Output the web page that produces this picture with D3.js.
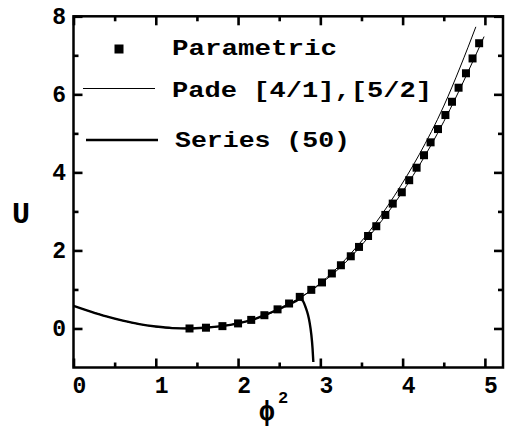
<!DOCTYPE html>
<html>
<head>
<meta charset="utf-8">
<script src="https://cdn.jsdelivr.net/npm/d3@7"></script>
<style>
  body { margin: 0; background: #fff; }
  text { font-family: "Liberation Mono", "Courier New", monospace; font-weight: bold; fill: #000; }
</style>
</head>
<body>
<div id="plot"></div>
<script>
// Data
const paramX = [1.41, 1.61, 1.81, 2.0, 2.16, 2.32, 2.48, 2.62, 2.75, 2.89, 3.02, 3.14, 3.25, 3.37, 3.47, 3.58,
  3.68, 3.79, 3.88, 3.99, 4.08, 4.17, 4.26, 4.34, 4.43, 4.52, 4.60, 4.68, 4.77, 4.85, 4.93];
const paramU = [0.0, 0.02, 0.06, 0.13, 0.22, 0.34, 0.49, 0.64, 0.81, 0.99, 1.18, 1.41, 1.62, 1.85, 2.09, 2.37,
  2.62, 2.91, 3.2, 3.49, 3.8, 4.12, 4.44, 4.77, 5.11, 5.47, 5.81, 6.17, 6.54, 6.92, 7.31];

const padeAX = [0, 0.4, 0.8, 1.2, 1.4, 1.8, 2.2, 2.6, 3.0, 3.3, 3.6, 3.9, 4.2, 4.5, 4.8, 4.99];
const padeAU = [0.58, 0.31, 0.11, 0.01, 0.0, 0.06, 0.24, 0.6, 1.14, 1.68, 2.38, 3.2, 4.17, 5.3, 6.6, 7.48];

const padeBX = [0, 0.4, 0.8, 1.2, 1.4, 1.8, 2.2, 2.6, 3.0, 3.3, 3.6, 3.9, 4.2, 4.5, 4.7, 4.89];
const padeBU = [0.58, 0.31, 0.11, 0.01, 0.0, 0.06, 0.24, 0.6, 1.16, 1.76, 2.5, 3.4, 4.45, 5.7, 6.7, 7.73];

const seriesX = [0, 0.2, 0.4, 0.6, 0.8, 1.0, 1.2, 1.4, 1.6, 1.8, 2.0, 2.2, 2.4, 2.6, 2.7, 2.75,
  2.79, 2.82, 2.85, 2.87, 2.89, 2.905, 2.915];
const seriesU = [0.58, 0.44, 0.31, 0.2, 0.11, 0.05, 0.01, 0.0, 0.02, 0.06, 0.13, 0.24, 0.41, 0.6, 0.7, 0.76,
  0.7, 0.55, 0.35, 0.15, -0.15, -0.5, -0.86];

const xTicks = [0, 1, 2, 3, 4, 5];
const xMinor = [0.5, 1.5, 2.5, 3.5, 4.5];
const yTicks = [0, 2, 4, 6, 8];
const yMinor = [1, 3, 5, 7];
const legendLabels = ["Parametric", "Pade [4/1],[5/2]", "Series (50)"];

const w = 505, h = 429;
const svg = d3.select("#plot").append("svg").attr("width", w).attr("height", h);

const x = d3.scaleLinear().domain([0, 5.22]).range([73.5, 503]);
const y = d3.scaleLinear().domain([-1, 8]).range([367.5, 16.3]);

const zip = (xs, ys) => xs.map((v, i) => [v, ys[i]]);
const line = d3.line().x(d => x(d[0])).y(d => y(d[1])).curve(d3.curveMonotoneX);

// frame and ticks first, curves on top
const [x0, x1] = x.range();
const [y0, y1] = y.range();

svg.append("rect").attr("x", x0).attr("y", y1).attr("width", x1 - x0).attr("height", y0 - y1)
  .attr("fill", "none").attr("stroke", "#000").attr("stroke-width", 2.5);

// ticks point inward on all four sides
const addAxis = (axis, tx, ty) => {
  const g = svg.append("g").attr("transform", `translate(${tx},${ty})`).call(axis);
  g.select(".domain").remove();
  g.selectAll("text").remove();
  g.selectAll("line").attr("stroke", "#000").attr("stroke-width", 2.6);
};
[[9, xTicks], [5, xMinor]].forEach(([len, vals]) => {
  addAxis(d3.axisTop(x).tickValues(vals).tickSize(len), 0, y0);
  addAxis(d3.axisBottom(x).tickValues(vals).tickSize(len), 0, y1);
});
[[9, yTicks], [5, yMinor]].forEach(([len, vals]) => {
  addAxis(d3.axisRight(y).tickValues(vals).tickSize(len), x0, 0);
  addAxis(d3.axisLeft(y).tickValues(vals).tickSize(len), x1, 0);
});

// curves
svg.append("path").datum(zip(padeAX, padeAU)).attr("d", line)
  .attr("fill", "none").attr("stroke", "#000").attr("stroke-width", 1);
svg.append("path").datum(zip(padeBX, padeBU)).attr("d", line)
  .attr("fill", "none").attr("stroke", "#000").attr("stroke-width", 1);
svg.append("path").datum(zip(seriesX, seriesU)).attr("d", line)
  .attr("fill", "none").attr("stroke", "#000").attr("stroke-width", 2.4);

// squares
const sq = 8;
svg.selectAll(".pt").data(zip(paramX, paramU)).enter().append("rect")
  .attr("class", "pt")
  .attr("x", d => x(d[0]) - sq / 2).attr("y", d => y(d[1]) - sq / 2)
  .attr("width", sq).attr("height", sq).attr("fill", "#000");

// tick labels
svg.selectAll(".xl").data(xTicks).enter().append("text")
  .attr("x", d => x(d) + 6).attr("y", 393)
  .attr("text-anchor", "middle").style("font-size", "23px").text(d => d);
svg.selectAll(".yl").data(yTicks).enter().append("text")
  .attr("x", 66).attr("y", d => y(d) + 8)
  .attr("text-anchor", "end").style("font-size", "23px").text(d => d);

// axis titles
svg.append("text").attr("x", 21).attr("y", 223).attr("text-anchor", "middle")
  .style("font-size", "30px").text("U");
svg.append("text").attr("x", 267).attr("y", 420).attr("text-anchor", "middle")
  .style("font-size", "28px").text("ϕ");
svg.append("text").attr("x", 278).attr("y", 403)
  .style("font-size", "17px").text("2");

// legend
svg.append("rect").attr("x", 119 - 4.5).attr("y", 49 - 4.5).attr("width", 9).attr("height", 9).attr("fill", "#000");
svg.append("line").attr("x1", 83).attr("x2", 155).attr("y1", 88.5).attr("y2", 88.5)
  .attr("stroke", "#000").attr("stroke-width", 1);
svg.append("line").attr("x1", 86).attr("x2", 158).attr("y1", 140).attr("y2", 140)
  .attr("stroke", "#000").attr("stroke-width", 2.4);

const legendPos = [[172, 55, 165], [172, 97, 260], [175, 147, 175]];
legendLabels.forEach((t, i) => {
  svg.append("text").attr("x", legendPos[i][0]).attr("y", legendPos[i][1])
    .attr("textLength", legendPos[i][2]).attr("lengthAdjust", "spacingAndGlyphs")
    .style("font-size", "22px").text(t);
});
</script>
</body>
</html>
